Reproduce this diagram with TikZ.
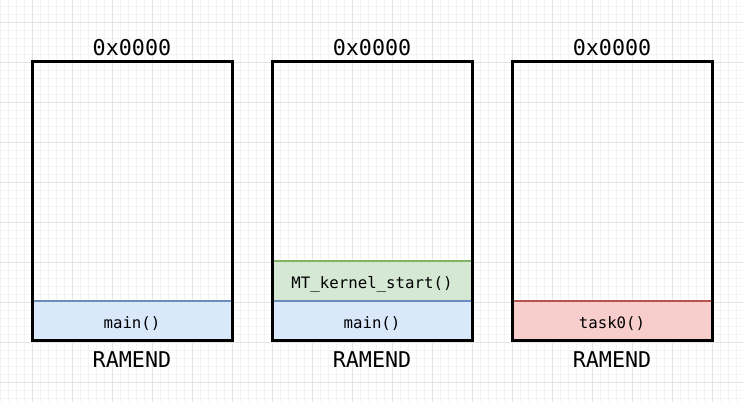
\documentclass[tikz,border=0pt]{standalone}
\usepackage{fontspec}
\setmonofont{DejaVu Sans Mono}
\usepackage{xcolor}
\usetikzlibrary{positioning}
\definecolor{gridMinor}{RGB}{243,243,243}
\definecolor{gridMajor}{RGB}{228,228,228}
\definecolor{blueFill}{HTML}{DAE8FC}
\definecolor{blueLine}{HTML}{6C8EBF}
\definecolor{greenFill}{HTML}{D5E8D4}
\definecolor{greenLine}{HTML}{82B366}
\definecolor{redFill}{HTML}{F8CECC}
\definecolor{redLine}{HTML}{B85450}

\begin{document}
\begin{tikzpicture}[
	x=0.75pt, y=-0.75pt,
	% Khung ngăn xếp
	mem_box/.style={
		draw=black, line width=2.25pt, fill=none,
		minimum width=150pt, minimum height=209.25pt, inner sep=0pt
	},
	% Khối khung hàm trong ngăn xếp
	frame_blk/.style={
		line width=1.1pt, minimum width=150pt, minimum height=30pt,
		inner sep=0pt, font=\ttfamily\fontsize{11.8}{13}\selectfont,
		text height=12pt, text depth=0pt
	},
	% Nhãn địa chỉ trên và dưới
	addr_label/.style={font=\ttfamily\fontsize{16.3}{18}\selectfont, inner sep=0pt}
	]
	% Lưới nền
	\useasboundingbox (0,0) rectangle (743,402);
	\fill[white] (0,0) rectangle (743,402);
	\foreach \x in {0,8,...,742} \draw[gridMinor, line width=0.6pt] (\x,0) -- (\x,402);
	\foreach \y in {6,14,...,402} \draw[gridMinor, line width=0.6pt] (0,\y) -- (743,\y);
	\foreach \x in {32,72,...,742} \draw[gridMajor, line width=0.6pt] (\x,0) -- (\x,402);
	\foreach \y in {22,62,...,402} \draw[gridMajor, line width=0.6pt] (0,\y) -- (743,\y);
	
	% Các khối khung hàm
	\node[frame_blk, fill=blueFill, draw=blueLine] (main1) at (132,321) {main()};
	\node[frame_blk, fill=greenFill, draw=greenLine] (kstart) at (372,281) {MT\_kernel\_start()};
	\node[frame_blk, fill=blueFill, draw=blueLine] (main2) at (372,321) {main()};
	\node[frame_blk, fill=redFill, draw=redLine] (task0) at (612,321) {task0()};
	
	% Ba ngăn xếp
	\foreach \n/\cx in {1/132, 2/372, 3/612} {
		\node[mem_box] (box\n) at (\cx,201.5) {};
		\node[addr_label] (top\n) at ([yshift=10pt]box\n.north) {0x0000};
		\node[addr_label] (end\n) at ([yshift=-12.75pt]box\n.south) {RAMEND};
	}
\end{tikzpicture}
\end{document}
